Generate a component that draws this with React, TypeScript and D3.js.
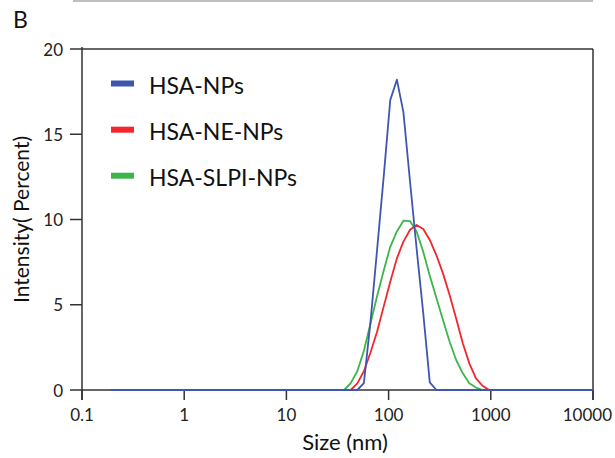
import React from "react";
import * as d3 from "d3";

// ---- data ----
const binSizes = [0.19, 36.7, 42.6, 49.4, 57.3, 66.5, 77.1, 89.5, 103.8, 120.5, 139.6, 162.2, 187.9, 218.3, 252.9, 293.8, 340.4, 395.4, 458.1, 532.1, 616.6, 716.1, 829.8, 963.8, 10000];
const hsaNPs = [0, 0, 0, 0, 0.4, 4.0, 8.2, 12.5, 17.0, 18.2, 16.3, 12.2, 8.3, 4.5, 0.45, 0, 0, 0, 0, 0, 0, 0, 0, 0, 0];
const hsaNENPs = [0, 0, 0, 0.39, 1.1, 2.2, 3.42, 4.89, 6.35, 7.72, 8.7, 9.4, 9.68, 9.44, 8.8, 7.9, 6.84, 5.57, 4.2, 2.74, 1.56, 0.68, 0.25, 0, 0];
const hsaSLPINPs = [0, 0, 0.4, 1.1, 2.3, 3.9, 5.5, 7.0, 8.4, 9.3, 9.93, 9.9, 9.3, 8.1, 6.7, 5.4, 4.1, 2.83, 1.76, 0.98, 0.39, 0.14, 0, 0, 0];

const seriesNames = ["HSA-NPs", "HSA-NE-NPs", "HSA-SLPI-NPs"];
const seriesColors = ["#3f56b0", "#f2262b", "#3db54a"];

const xTickValues = [0.1, 1, 10, 100, 1000, 10000];
const xTickLabels = ["0.1", "1", "10", "100", "1000", "10000"];
const yTickValues = [0, 5, 10, 15, 20];

const W = 615;
const H = 458;
const FONT = "Lato, 'Open Sans', sans-serif";

export default function App() {
  const x = d3.scaleLog().domain([0.1, 10000]).range([82, 593]);
  const y = d3.scaleLinear().domain([0, 20]).range([390, 49]);

  const line = d3
    .line<[number, number]>()
    .x((d) => x(d[0]))
    .y((d) => y(d[1]));

  const allSeries = [hsaNPs, hsaNENPs, hsaSLPINPs];
  const drawOrder = [2, 1, 0];

  const legendY = [83.5, 129.7, 175.7];

  return (
    <svg
      width={W}
      height={H}
      style={{ position: "absolute", left: 0, top: 0, background: "#fff" }}
      fontFamily={FONT}
    >
      <rect x={0} y={0} width={W} height={H} fill="#fff" />
      {/* top separator line */}
      <line x1={73} x2={593} y1={1} y2={1} stroke="#a8a8a8" strokeWidth={1.5} />
      <text x={13} y={28} fontSize={23} fill="#111">B</text>

      {/* frame */}
      <line x1={x(0.1)} x2={x(10000)} y1={y(20)} y2={y(20)} stroke="#333" strokeWidth={1.5} />
      <line x1={x(10000)} x2={x(10000)} y1={y(20)} y2={y(0) + 10} stroke="#333" strokeWidth={1.5} />
      <line x1={x(0.1)} x2={x(0.1)} y1={y(20) - 2} y2={y(0) + 10} stroke="#333" strokeWidth={1.5} />
      <line x1={x(0.1)} x2={x(10000)} y1={y(0)} y2={y(0)} stroke="#333" strokeWidth={1.5} />

      {/* x ticks */}
      {xTickValues.map((v, i) => {
        const last = i === xTickValues.length - 1;
        return (
          <g key={"xt" + i}>
            <line x1={x(v)} x2={x(v)} y1={y(0)} y2={y(0) + 10} stroke="#333" strokeWidth={1.5} />
            <text
              x={last ? W - 3 : x(v)}
              y={421}
              fontSize={17}
              textAnchor={last ? "end" : "middle"}
              fill="#222"
            >
              {xTickLabels[i]}
            </text>
          </g>
        );
      })}

      {/* y ticks */}
      {yTickValues.map((v, i) => (
        <g key={"yt" + i}>
          <line x1={x(0.1) - 12} x2={x(0.1)} y1={y(v)} y2={y(v)} stroke="#333" strokeWidth={1.5} />
          <text x={63} y={y(v)} fontSize={17} textAnchor="end" dominantBaseline="central" fill="#222">
            {v}
          </text>
        </g>
      ))}

      {/* axis titles */}
      <text x={345} y={450} fontSize={22} textAnchor="middle" fill="#111">
        Size (nm)
      </text>
      <text
        transform={`translate(29, ${(y(0) + y(20)) / 2}) rotate(-90)`}
        fontSize={21}
        textAnchor="middle"
        fill="#111"
      >
        Intensity( Percent)
      </text>

      {/* series */}
      {drawOrder.map((si) => {
        const pts: [number, number][] = binSizes.map((s, j) => [s, allSeries[si][j]]);
        return (
          <path
            key={"s" + si}
            d={line(pts) || ""}
            fill="none"
            stroke={seriesColors[si]}
            strokeWidth={1.8}
            strokeLinejoin="round"
          />
        );
      })}

      {/* legend */}
      {seriesNames.map((name, i) => (
        <g key={"lg" + i}>
          <rect x={111} y={legendY[i] - 3} width={23} height={6} fill={seriesColors[i]} />
          <text x={149} y={legendY[i] + 10.5} fontSize={23} fill="#111">
            {name}
          </text>
        </g>
      ))}
    </svg>
  );
}
